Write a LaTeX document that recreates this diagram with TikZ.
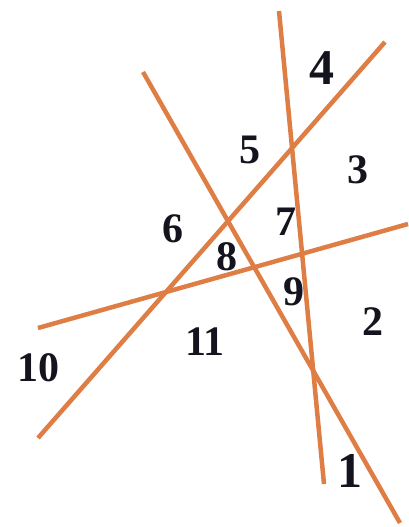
\documentclass[tikz,border=0pt]{standalone}
\usepackage{fontspec}
\setmainfont{Liberation Serif}
\definecolor{lineor}{RGB}{222,125,68}
\definecolor{labtxt}{RGB}{20,20,30}
\begin{document}
\begin{tikzpicture}[x=1pt,y=-1pt,
  ln/.style={draw=lineor,line width=4.5pt},
  lab/.style={text=labtxt,font=\bfseries\fontsize{42}{42}\selectfont,inner sep=0pt},
  bigl/.style={text=labtxt,font=\bfseries\fontsize{50}{50}\selectfont,inner sep=0pt}]
\useasboundingbox (0,0) rectangle (408,527);
% line end points
\coordinate (a1) at (279,11);
\coordinate (a2) at (324,484);
\coordinate (b1) at (385,42);
\coordinate (b2) at (38,438);
\coordinate (c1) at (143,72);
\coordinate (c2) at (400,523);
\coordinate (d1) at (38,328);
\coordinate (d2) at (408,224);
\draw[ln] (a1) -- (a2);
\draw[ln] (b1) -- (b2);
\draw[ln] (c1) -- (c2);
\draw[ln] (d1) -- (d2);
% labels
\node[bigl] (l4) at (322,68) {4};
\node[lab] (l5) at (250,150) {5};
\node[lab] (l3) at (358,170) {3};
\node[lab] (l6) at (173,229) {6};
\node[lab] (l7) at (286,222) {7};
\node[lab] (l8) at (227,257) {8};
\node[lab] (l9) at (294,292) {9};
\node[lab] (l2) at (373,322) {2};
\node[lab] (l11) at (205,342) {11};
\node[lab] (l10) at (38,368) {10};
\node[bigl] (l1) at (350,471) {1};
\end{tikzpicture}
\end{document}
